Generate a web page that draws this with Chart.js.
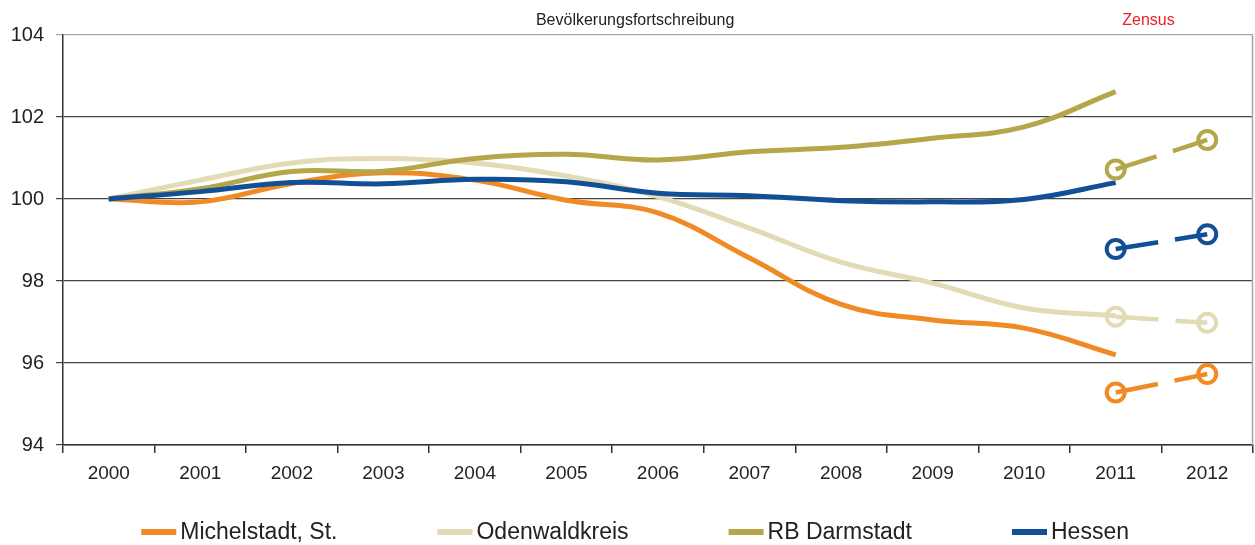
<!DOCTYPE html>
<html>
<head>
<meta charset="utf-8">
<script src="https://cdn.jsdelivr.net/npm/chart.js@4/dist/chart.umd.min.js"></script>
<style>
  html, body { margin: 0; padding: 0; background: #fff; overflow: hidden; }
  canvas { display: block; }
</style>
</head>
<body>
<canvas id="myChart" width="1255" height="545"></canvas>
<script>
const FONT = "'Liberation Sans', Arial, sans-serif";

// Index 2000 = 100
const years = ["2000", "2001", "2002", "2003", "2004", "2005", "2006", "2007", "2008", "2009", "2010", "2011", "2012"];
const yTicks = [94, 96, 98, 100, 102, 104];

const seriesNames = ["Michelstadt, St.", "Odenwaldkreis", "RB Darmstadt", "Hessen"];
const seriesColors = ["#EF8A25", "#E2DBB6", "#B6A64A", "#114F97"];

// Bevölkerungsfortschreibung 2000-2011
const michelstadt = [100, 99.93, 100.38, 100.64, 100.46, 99.97, 99.66, 98.56, 97.43, 97.05, 96.85, 96.2, null];
const odenwald = [100, 100.46, 100.88, 100.99, 100.88, 100.56, 100.06, 99.29, 98.46, 97.95, 97.34, 97.15, null];
const darmstadt = [100, 100.25, 100.67, 100.68, 100.99, 101.09, 100.95, 101.15, 101.26, 101.48, 101.76, 102.62, null];
const hessen = [100, 100.18, 100.4, 100.37, 100.48, 100.42, 100.14, 100.08, 99.96, 99.93, 99.99, 100.4, null];

// Zensus 2011, 2012
const zensusYears = ["2011", "2012"];
const zensusMichelstadt = [95.28, 95.73];
const zensusOdenwald = [97.13, 96.98];
const zensusDarmstadt = [100.72, 101.44];
const zensusHessen = [98.78, 99.14];

const fortschreibung = [michelstadt, odenwald, darmstadt, hessen];
const zensus = [zensusMichelstadt, zensusOdenwald, zensusDarmstadt, zensusHessen];

// place the two census values on their years, empty elsewhere
function onYears(values) {
  return years.map((y) => {
    const k = zensusYears.indexOf(y);
    return k >= 0 ? values[k] : null;
  });
}

const datasets = [];
fortschreibung.forEach((data, i) => {
  datasets.push({
    label: seriesNames[i],
    data: data,
    borderColor: seriesColors[i],
    backgroundColor: seriesColors[i],
    borderWidth: 5,
    pointRadius: 0,
    tension: 0.4,
    order: 10 - i,
  });
});
zensus.forEach((values, i) => {
  datasets.push({
    label: seriesNames[i] + " (Zensus)",
    data: onYears(values),
    borderColor: seriesColors[i],
    borderWidth: 4.5,
    borderDash: [43, 17],
    pointRadius: 9,
    pointHoverRadius: 9,
    pointBorderWidth: 4,
    pointBorderColor: seriesColors[i],
    pointBackgroundColor: "rgba(255,255,255,0)",
    tension: 0,
    order: 5 - i,
  });
});

// midpoint between plot left edge and the 2012 column, used for headings and legend
function middleX(chart) {
  const x = chart.scales.x;
  return (chart.chartArea.left + x.getPixelForValue(years.length - 1)) / 2;
}

const headings = {
  id: "headings",
  afterDraw(chart) {
    const c = chart.ctx;
    const x = chart.scales.x;
    c.save();
    c.textBaseline = "middle";
    c.textAlign = "center";
    c.font = "16px " + FONT;
    c.fillStyle = "#222";
    c.fillText("Bevölkerungsfortschreibung", middleX(chart), 21);
    c.fillStyle = "#E8212B";
    const zx = (x.getPixelForValue(11) + x.getPixelForValue(12)) / 2 - 13;
    c.fillText("Zensus", zx, 21);
    c.restore();
  },
};

const frame = {
  id: "frame",
  beforeDatasetsDraw(chart) {
    const a = chart.chartArea;
    const c = chart.ctx;
    c.save();
    c.strokeStyle = "#a6a6a6";
    c.lineWidth = 1.5;
    c.beginPath();
    c.moveTo(a.right - 0.5, a.top);
    c.lineTo(a.right - 0.5, a.bottom);
    c.stroke();
    c.restore();
  },
};

const bottomLegend = {
  id: "bottomLegend",
  afterDraw(chart) {
    const c = chart.ctx;
    const markW = 35, markH = 6, textGap = 4, itemGap = 100;
    const y = 532;
    c.save();
    c.font = "23px " + FONT;
    c.textBaseline = "middle";
    c.textAlign = "left";
    const widths = seriesNames.map((n) => markW + textGap + c.measureText(n).width);
    const total = widths.reduce((s, w) => s + w, 0) + itemGap * (widths.length - 1);
    let x = middleX(chart) - total / 2;
    seriesNames.forEach((name, i) => {
      c.fillStyle = seriesColors[i];
      c.fillRect(x, y - markH / 2, markW, markH);
      c.fillStyle = "#222";
      c.fillText(name, x + markW + textGap, y + 1);
      x += widths[i] + itemGap;
    });
    c.restore();
  },
};

const ctx = document.getElementById("myChart");

new Chart(ctx, {
  type: "line",
  data: {
    labels: years,
    datasets: datasets,
  },
  options: {
    responsive: false,
    animation: false,
    layout: {
      autoPadding: false,
      padding: { top: 35, right: 2, left: 0, bottom: 55 },
    },
    plugins: {
      legend: { display: false },
      tooltip: { enabled: false },
    },
    scales: {
      x: {
        type: "category",
        offset: true,
        afterFit(scale) {
          scale.height = 45;
          scale.paddingLeft = 0;
          scale.paddingRight = 0;
        },
        border: { color: "#333", width: 1.5 },
        grid: {
          offset: true,
          drawOnChartArea: false,
          drawTicks: true,
          tickLength: 8,
          color: "#333",
          lineWidth: 1.5,
        },
        ticks: {
          color: "#222",
          font: { family: FONT, size: 19 },
          padding: 9,
          maxRotation: 0,
        },
      },
      y: {
        min: 94,
        max: 104,
        afterFit(scale) {
          scale.width = 63;
          scale.paddingTop = 0;
          scale.paddingBottom = 0;
        },
        afterBuildTicks(scale) {
          scale.ticks = yTicks.map((v) => ({ value: v }));
        },
        border: { color: "#333", width: 1.5 },
        grid: {
          color: (c) => (c.tick && c.tick.value === 104 ? "#a6a6a6" : "#444"),
          lineWidth: 1.2,
          tickLength: 7,
        },
        ticks: {
          color: "#222",
          font: { family: FONT, size: 20 },
          padding: 12,
        },
      },
    },
  },
  plugins: [frame, headings, bottomLegend],
});
</script>
</body>
</html>
